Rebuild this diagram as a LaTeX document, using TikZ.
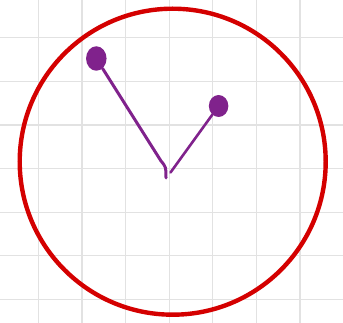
\documentclass[tikz,border=0pt]{standalone}
\usepackage{tikz}
\usetikzlibrary{shapes.geometric}
\usepackage{xcolor}
\definecolor{clockred}{RGB}{212,0,0}
\definecolor{handpurple}{RGB}{128,34,140}
\definecolor{gridgray}{RGB}{226,226,226}

\begin{document}
\begin{tikzpicture}[x=1pt, y=1pt]
    \useasboundingbox (0,0) rectangle (343,-323);

    % Grid
    \foreach \g in {0,...,6} {
        \draw[gridgray, line width=1.2] ({38.3+43.6*\g},0) -- ({38.3+43.6*\g},-323);
        \draw[gridgray, line width=1.2] (0,{-37.8-43.6*\g}) -- (343,{-37.8-43.6*\g});
    }

    % Clock face
    \node[circle, draw=clockred, line width=4.4, minimum size=306, inner sep=0] (face) at (172.7,-161.7) {};

    % Hands
    \coordinate (hubL) at (166,-178);
    \coordinate (hubR) at (170.5,-172.5);
    \node[ellipse, fill=handpurple, minimum width=20.5, minimum height=24.5, inner sep=0] (long) at (96.3,-58.5) {};
    \node[ellipse, fill=handpurple, minimum width=19.5, minimum height=22, inner sep=0] (short) at (218.6,-106) {};

    \draw[handpurple, line width=3, line cap=round] (long) -- (161,-161) .. controls (166,-167) .. (hubL);
    \draw[handpurple, line width=2.6, line cap=round] (short) -- (hubR);
\end{tikzpicture}
\end{document}
